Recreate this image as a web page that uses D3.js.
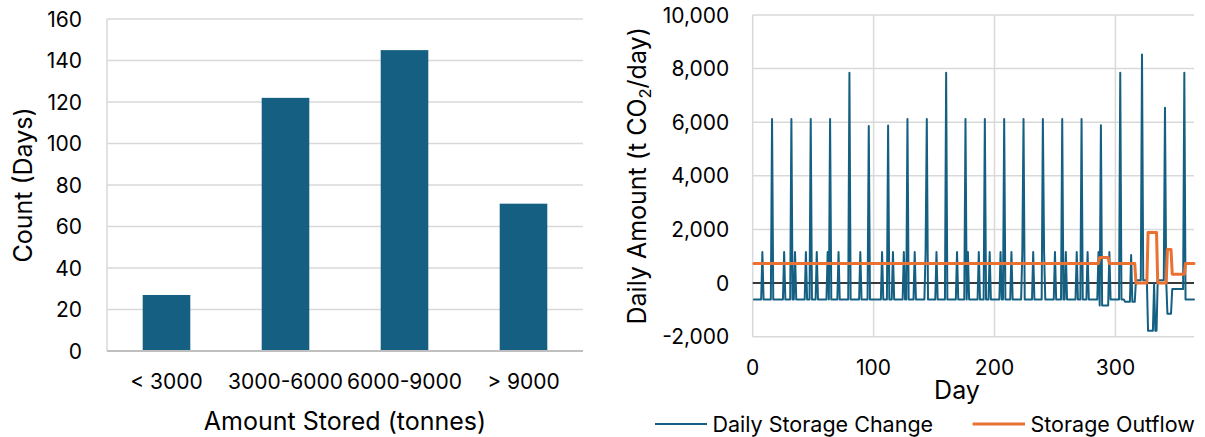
<!DOCTYPE html>
<html>
<head>
<meta charset="utf-8">
<script src="https://cdn.jsdelivr.net/npm/d3@7"></script>
<style>
  html, body { margin: 0; padding: 0; background: #fff; }
  svg { display: block; }
  text { font-family: Inter, "Open Sans", sans-serif; fill: #000; }
</style>
</head>
<body>
<svg id="chart" width="1205" height="437"></svg>
<script>
// ---- Histogram: days per stored-amount bin ----
const storedBins = ["< 3000", "3000-6000", "6000-9000", "> 9000"];
const dayCounts = [27, 122, 145, 71];
const countTicks = [0, 20, 40, 60, 80, 100, 120, 140, 160];

// ---- Daily series (t CO2/day), days 1..365 ----
const dayTicks = [0, 100, 200, 300];
const amountTicks = [-2000, 0, 2000, 4000, 6000, 8000, 10000];
const seriesNames = ["Daily Storage Change", "Storage Outflow"];

const dailyStorageChange = [
  -610,-610,-610,-610,-610,-610,-610,1160,-610,-610,
  -610,-610,-610,-610,-610,6120,-610,-610,-610,-610,
  -610,-610,-610,-610,-610,1160,-610,-610,-610,-610,
  -610,6120,-610,-610,1160,-610,-610,-610,-610,-610,
  -610,-610,-610,1160,-610,-610,-610,6120,-610,-610,
  -610,-610,1160,-610,-610,-610,-610,-610,-610,-610,
  -610,1160,-610,6120,-610,-610,-610,-610,-610,-610,
  1160,-610,-610,-610,-610,-610,-610,-610,-610,7850,
  -610,-610,-610,-610,-610,-610,-610,-610,1160,-610,
  -610,-610,-610,-610,-610,5860,-610,-610,-610,-610,
  -610,-610,-610,-610,-610,-610,1160,-610,-610,-610,
  -610,5880,-610,-610,-610,1160,-610,-610,-610,-610,
  -610,-610,-610,-610,1160,-610,-610,6120,-610,-610,
  -610,-610,-610,1160,-610,-610,-610,-610,-610,-610,
  -610,-610,1160,6120,-610,-610,-610,-610,-610,-610,
  -610,1160,-610,-610,-610,-610,-610,-610,-610,7850,
  -610,-610,-610,-610,-610,-610,-610,-610,1160,-610,
  -610,-610,-610,-610,-610,6120,-610,1160,-610,-610,
  -610,-610,-610,-610,-610,-610,1160,-610,-610,-610,
  -610,6120,-610,-610,-610,1160,-610,-610,-610,-610,
  -610,-610,-610,-610,1160,-610,-610,6120,-610,-610,
  -610,-610,-610,1160,-610,-610,-610,-610,-610,-610,
  -610,-610,1160,6120,-610,-610,-610,-610,-610,-610,
  -610,1160,-610,-610,-610,-610,-610,-610,-610,6120,
  1160,-610,-610,-610,-610,-610,-610,-610,-610,1160,
  -610,-610,-610,-610,-610,6120,-610,-610,1160,-610,
  -610,-610,-610,-610,-610,-610,-610,1160,-610,-610,
  -610,6120,-610,-610,-610,-610,1160,-610,-610,-610,
  -610,-610,-610,-610,-610,1160,-840,5890,-840,-840,
  -840,-840,-840,-840,1160,-610,-610,-610,-610,-610,
  -610,-610,-610,7850,-610,-610,-610,-700,-700,-700,
  -700,-700,1050,-700,-700,-700,110,110,110,110,
  110,8530,110,110,110,110,-1780,-1780,-1780,-1780,
  -1780,-10,-1780,-1780,110,110,110,110,110,110,
  6540,110,-1140,-1140,-1140,-1140,-220,-220,-220,-220,
  -220,-220,-220,-220,-220,-220,7850,-610,-610,-610,
  -610,-610,-610,-610,-610
];

const storageOutflow = [
  730,730,730,730,730,730,730,730,730,730,
  730,730,730,730,730,730,730,730,730,730,
  730,730,730,730,730,730,730,730,730,730,
  730,730,730,730,730,730,730,730,730,730,
  730,730,730,730,730,730,730,730,730,730,
  730,730,730,730,730,730,730,730,730,730,
  730,730,730,730,730,730,730,730,730,730,
  730,730,730,730,730,730,730,730,730,730,
  730,730,730,730,730,730,730,730,730,730,
  730,730,730,730,730,730,730,730,730,730,
  730,730,730,730,730,730,730,730,730,730,
  730,730,730,730,730,730,730,730,730,730,
  730,730,730,730,730,730,730,730,730,730,
  730,730,730,730,730,730,730,730,730,730,
  730,730,730,730,730,730,730,730,730,730,
  730,730,730,730,730,730,730,730,730,730,
  730,730,730,730,730,730,730,730,730,730,
  730,730,730,730,730,730,730,730,730,730,
  730,730,730,730,730,730,730,730,730,730,
  730,730,730,730,730,730,730,730,730,730,
  730,730,730,730,730,730,730,730,730,730,
  730,730,730,730,730,730,730,730,730,730,
  730,730,730,730,730,730,730,730,730,730,
  730,730,730,730,730,730,730,730,730,730,
  730,730,730,730,730,730,730,730,730,730,
  730,730,730,730,730,730,730,730,730,730,
  730,730,730,730,730,730,730,730,730,730,
  730,730,730,730,730,730,730,730,730,730,
  730,730,730,730,730,730,950,950,950,950,
  950,950,950,950,730,730,730,730,730,730,
  730,730,730,730,730,730,730,730,730,730,
  730,730,730,730,730,730,0,0,0,0,
  0,0,0,0,0,0,1890,1890,1890,1890,
  1890,1890,1890,1890,0,0,0,0,0,0,
  0,0,1250,1250,1250,1250,330,330,330,330,
  330,330,330,330,330,330,330,730,730,730,
  730,730,730,730,730
];

const days = dailyStorageChange.map((_, i) => i + 1);

// ---- styling ----
const BLUE = "#156082";
const ORANGE = "#E97132";
const GRID = "#d9d9d9";
const TICK_FONT = 21;
const TITLE_FONT = 25;
const LEGEND_FONT = 21.5;

const svg = d3.select("#chart");
const fmt = d3.formatLocale({ decimal: ".", thousands: ",", grouping: [3], currency: ["", ""], minus: "-" }).format(",");

// ================= Left: bar chart =================
{
  const left = 107, right = 583, top = 19, base = 351;
  const x = d3.scaleBand().domain(storedBins).range([left, right]).paddingInner(0.6).paddingOuter(0.3);
  const y = d3.scaleLinear().domain([0, 160]).range([base, top]);
  const g = svg.append("g");

  // horizontal gridlines
  g.selectAll("line.grid").data(countTicks.filter(d => d > 0)).join("line")
    .attr("x1", left).attr("x2", right)
    .attr("y1", d => y(d)).attr("y2", d => y(d))
    .attr("stroke", GRID).attr("stroke-width", 1.5);
  // vertical axis line
  g.append("line").attr("x1", left).attr("x2", left).attr("y1", y(160)).attr("y2", base)
    .attr("stroke", GRID).attr("stroke-width", 1.5);

  // bars
  g.selectAll("rect").data(storedBins).join("rect")
    .attr("x", d => x(d)).attr("width", x.bandwidth())
    .attr("y", (d, i) => y(dayCounts[i]))
    .attr("height", (d, i) => base - y(dayCounts[i]))
    .attr("fill", BLUE);

  // baseline
  g.append("line").attr("x1", left).attr("x2", right).attr("y1", base).attr("y2", base)
    .attr("stroke", "#bfbfbf").attr("stroke-width", 2);

  // y tick labels
  g.selectAll("text.ytick").data(countTicks).join("text")
    .attr("x", 82).attr("y", d => y(d)).attr("dy", "0.36em")
    .attr("text-anchor", "end").attr("font-size", TICK_FONT)
    .text(d => d);

  // x tick labels
  g.selectAll("text.xtick").data(storedBins).join("text")
    .attr("x", d => x(d) + x.bandwidth() / 2).attr("y", 381.7).attr("dy", "0.36em")
    .attr("text-anchor", "middle").attr("font-size", TICK_FONT)
    .text(d => d);

  g.append("text").attr("x", (left + right) / 2).attr("y", 421).attr("dy", "0.36em")
    .attr("text-anchor", "middle").attr("font-size", TITLE_FONT)
    .text("Amount Stored (tonnes)");

  g.append("text").attr("transform", `translate(23,${(top + base) / 2}) rotate(-90)`)
    .attr("dy", "0.36em").attr("text-anchor", "middle").attr("font-size", TITLE_FONT)
    .text("Count (Days)");
}

// ================= Right: daily line chart =================
{
  const left = 752.7, right = 1194, top = 15, bottom = 336.7;
  const x = d3.scaleLinear().domain([0, 365]).range([left, right]);
  const y = d3.scaleLinear().domain([-2000, 10000]).range([bottom, top]);
  const g = svg.append("g");

  g.selectAll("line.hgrid").data(amountTicks).join("line")
    .attr("x1", left).attr("x2", right)
    .attr("y1", d => y(d)).attr("y2", d => y(d))
    .attr("stroke", GRID).attr("stroke-width", 1.5);
  g.selectAll("line.vgrid").data(dayTicks).join("line")
    .attr("x1", d => x(d)).attr("x2", d => x(d))
    .attr("y1", top).attr("y2", bottom)
    .attr("stroke", GRID).attr("stroke-width", 1.5);

  // zero axis line
  g.append("line").attr("x1", left).attr("x2", right).attr("y1", y(0)).attr("y2", y(0))
    .attr("stroke", "#000").attr("stroke-width", 1.5);

  const line = series => d3.line().x((d, i) => x(days[i])).y(d => y(d))(series);

  g.append("path").attr("d", line(dailyStorageChange))
    .attr("fill", "none").attr("stroke", BLUE).attr("stroke-width", 2)
    .attr("stroke-linejoin", "round").attr("stroke-linecap", "round");
  g.append("path").attr("d", line(storageOutflow))
    .attr("fill", "none").attr("stroke", ORANGE).attr("stroke-width", 3)
    .attr("stroke-linejoin", "round").attr("stroke-linecap", "round");

  // tick labels
  g.selectAll("text.ytick").data(amountTicks).join("text")
    .attr("x", 729.3).attr("y", d => y(d)).attr("dy", "0.36em")
    .attr("text-anchor", "end").attr("font-size", TICK_FONT)
    .text(d => fmt(d));
  g.selectAll("text.xtick").data(dayTicks).join("text")
    .attr("x", d => x(d)).attr("y", 367.3).attr("dy", "0.36em")
    .attr("text-anchor", "middle").attr("font-size", TICK_FONT)
    .text(d => d);

  g.append("text").attr("x", 957).attr("y", 390).attr("dy", "0.36em")
    .attr("text-anchor", "middle").attr("font-size", TITLE_FONT).text("Day");

  const yt = g.append("text").attr("transform", `translate(637,${(top + bottom) / 2}) rotate(-90)`)
    .attr("dy", "0.36em").attr("text-anchor", "middle").attr("font-size", TITLE_FONT);
  yt.append("tspan").text("Daily Amount (t CO");
  yt.append("tspan").attr("font-size", 16.5).attr("dy", 5).text("2");
  yt.append("tspan").attr("dy", -5).text("/day)");

  // legend
  const legend = [
    { name: seriesNames[0], color: BLUE, width: 2, x1: 655, x2: 707, tx: 712.5 },
    { name: seriesNames[1], color: ORANGE, width: 3, x1: 972.6, x2: 1025, tx: 1030.5 }
  ];
  const lg = g.selectAll("g.legend").data(legend).join("g");
  lg.append("line").attr("x1", d => d.x1).attr("x2", d => d.x2).attr("y1", 424).attr("y2", 424)
    .attr("stroke", d => d.color).attr("stroke-width", d => d.width);
  lg.append("text").attr("x", d => d.tx).attr("y", 424).attr("dy", "0.36em")
    .attr("font-size", LEGEND_FONT).text(d => d.name);
}
</script>
</body>
</html>
